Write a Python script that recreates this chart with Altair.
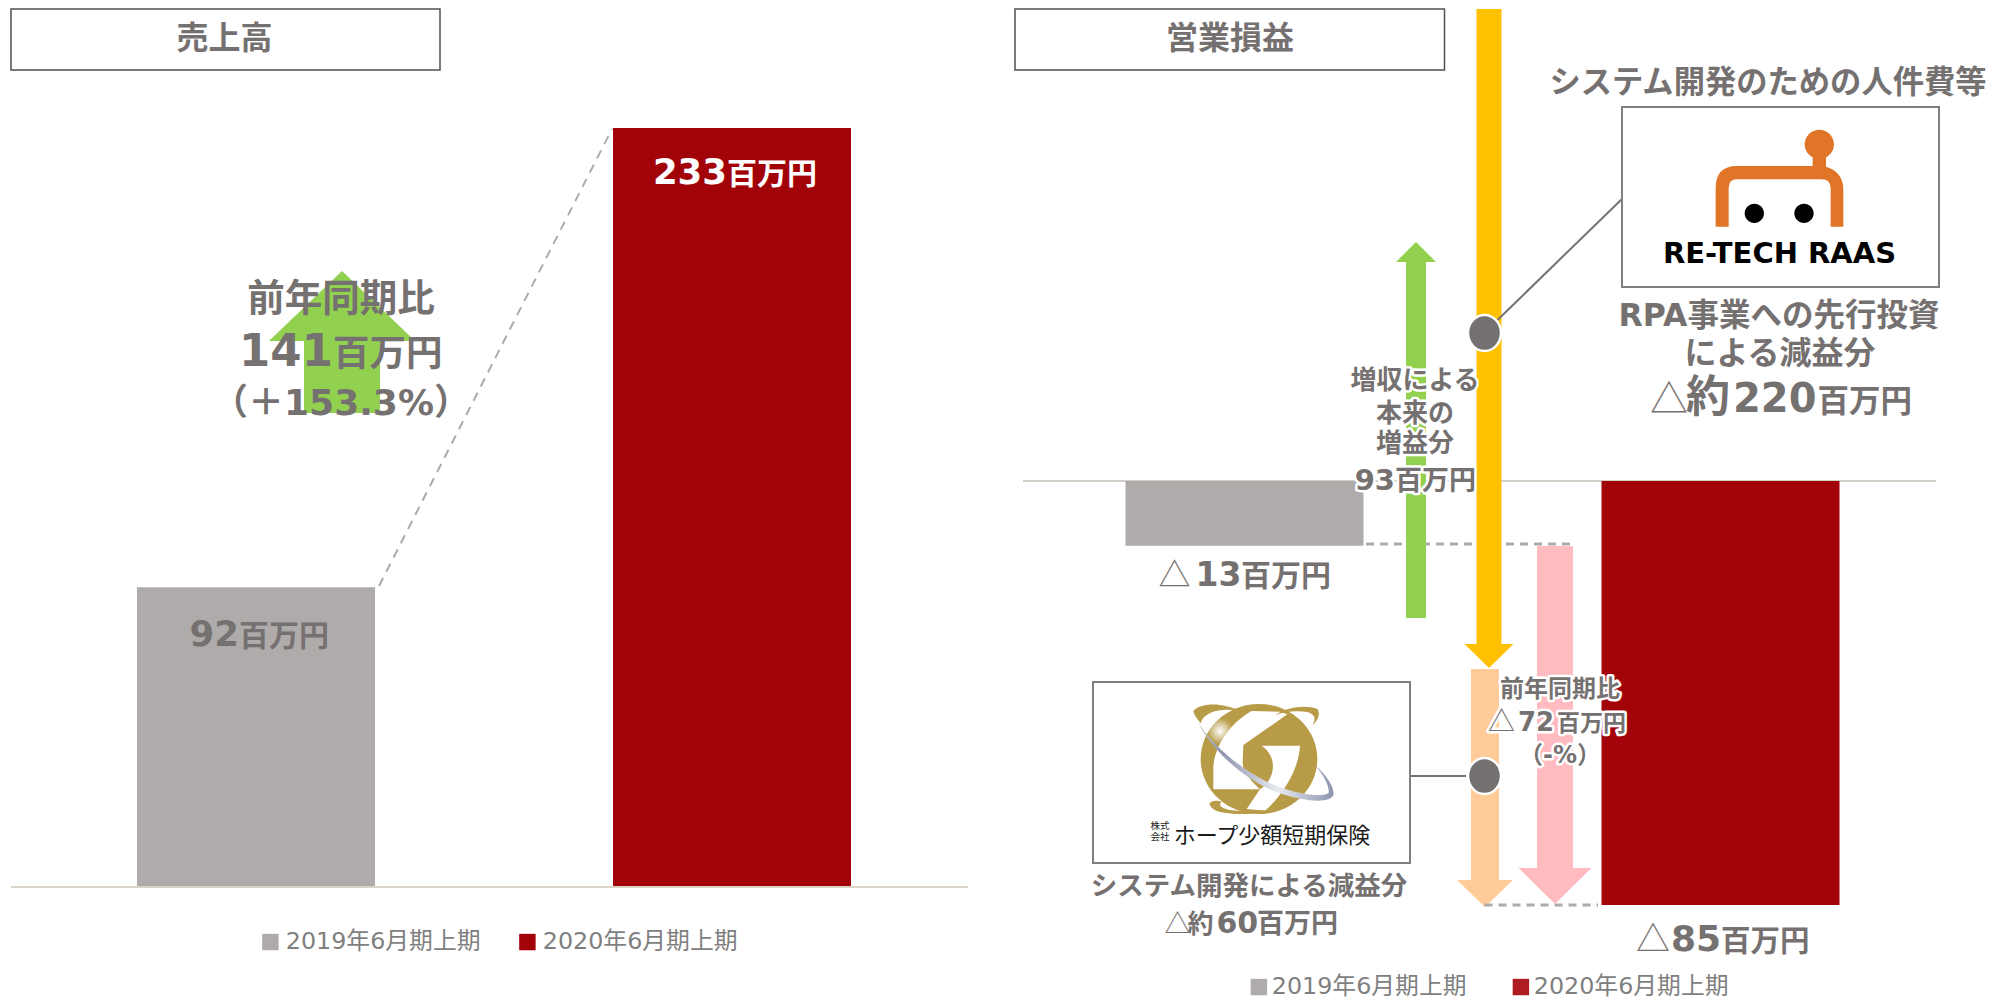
import altair as alt
import pandas as pd

# ---- chart values ----
PERIODS = ["2019年6月期上期", "2020年6月期上期"]
SALES = [92, 233]
OPERATING = [-13, -85]
BAR_COLORS = ["#AFABAB", "#A20309"]
OP_LEGEND_COLORS = ["#AFABAB", "#AE1C22"]
LEGEND_COLOR = "#7F7F7F"

GREY = "#767171"
FONT = "DejaVu Sans, Noto Sans CJK JP"
CJK = "Noto Sans CJK JP"

# text, x, baseline y, size, colour, align, bold, halo, family
TEXTS = [
    ("売上高", 224.5, 49, 32, GREY, "center", True, False, CJK),
    ("前年同期比", 341, 311, 37.5, GREY, "center", True, False, CJK),
    ("141", 333, 366, 45, GREY, "right", True, False, FONT),
    ("百万円", 333, 366, 36.5, GREY, "left", True, False, CJK),
    ("（＋153.3%）", 341, 415, 36, GREY, "center", True, False, FONT),
    ("233", 727, 184, 35.5, "#FFFFFF", "right", True, False, FONT),
    ("百万円", 727, 184, 30, "#FFFFFF", "left", True, False, CJK),
    ("92", 239, 646, 35.5, GREY, "right", True, False, FONT),
    ("百万円", 239, 646, 30, GREY, "left", True, False, CJK),
    ("営業損益", 1230, 49, 32, GREY, "center", True, False, CJK),
    ("システム開発のための人件費等", 1768, 93, 31.3, GREY, "center", True, False, CJK),
    ("RPA事業への先行投資", 1779, 326, 31.5, GREY, "center", True, False, FONT),
    ("による減益分", 1780, 364, 32, GREY, "center", True, False, CJK),
    ("△", 1650, 412, 38, GREY, "left", False, False, CJK),
    ("約", 1686, 412, 44, GREY, "left", True, False, CJK),
    ("220", 1733, 412, 40, GREY, "left", True, False, FONT),
    ("百万円", 1817.5, 412, 31.5, GREY, "left", True, False, CJK),
    ("増収による", 1415, 389, 26, GREY, "center", True, True, CJK),
    ("本来の", 1415, 422, 26, GREY, "center", True, True, CJK),
    ("増益分", 1415, 452, 26, GREY, "center", True, True, CJK),
    ("93", 1395, 490, 29, GREY, "right", True, True, FONT),
    ("百万円", 1395, 490, 27, GREY, "left", True, True, CJK),
    ("△", 1158.5, 586, 32, GREY, "left", False, False, CJK),
    ("13", 1195.5, 586, 33, GREY, "left", True, False, FONT),
    ("百万円", 1241, 586, 30, GREY, "left", True, False, CJK),
    ("前年同期比", 1560, 697, 24, GREY, "center", True, True, CJK),
    ("△", 1488, 731, 27, GREY, "left", False, True, CJK),
    ("72", 1518, 731, 26, GREY, "left", True, True, FONT),
    ("百万円", 1557, 731, 23, GREY, "left", True, True, CJK),
    ("（-%）", 1560, 763, 24, GREY, "center", True, True, FONT),
    ("システム開発による減益分", 1249, 895, 26.5, GREY, "center", True, False, CJK),
    ("△", 1164.5, 933, 26, GREY, "left", False, False, CJK),
    ("約", 1187.5, 933, 26, GREY, "left", True, False, CJK),
    ("60", 1216.5, 933, 30, GREY, "left", True, False, FONT),
    ("百万円", 1257, 933, 27, GREY, "left", True, False, CJK),
    ("△", 1636, 951, 34, GREY, "left", False, False, CJK),
    ("85", 1671, 951, 36, GREY, "left", True, False, FONT),
    ("百万円", 1721, 951, 29.5, GREY, "left", True, False, CJK),
    ("RE-TECH RAAS", 1779.5, 263, 29, "#000000", "center", True, False, "DejaVu Sans"),
    ("ホープ少額短期保険", 1272, 843, 22, "#1A1A1A", "center", False, False, CJK),
    ("株式", 1160, 829, 9.5, "#1A1A1A", "center", False, False, CJK),
    ("会社", 1160, 840, 9.5, "#1A1A1A", "center", False, False, CJK),
]

# ---- drawing helpers: annotation layers run on a reference-pixel scale ----
W, H = 1981, 992
SX = alt.Scale(domain=[0, 1989], range=[-8, 1981], nice=False, zero=False)
SY = alt.Scale(domain=[0, 1000], range=[-8, 992], nice=False, zero=False)


def X(field="x"):
    return alt.X(f"{field}:Q", scale=SX, axis=None)


def Y(field="y"):
    return alt.Y(f"{field}:Q", scale=SY, axis=None)


def rect(x0, x1, y0, y1, **mark):
    d = pd.DataFrame({"x": [x0], "x2": [x1], "y": [y0], "y2": [y1]})
    return alt.Chart(d).mark_rect(**mark).encode(x=X(), x2="x2:Q", y=Y(), y2="y2:Q")


def rule(x0, y0, x1, y1, **mark):
    d = pd.DataFrame({"x": [x0], "x2": [x1], "y": [y0], "y2": [y1]})
    return alt.Chart(d).mark_rule(**mark).encode(x=X(), x2="x2:Q", y=Y(), y2="y2:Q")


def arrow(xc, shaft, head, tail, base, tip, color):
    d = pd.DataFrame({"x": [xc - head / 2, xc, xc + head / 2],
                      "y": [base, tip, base], "y2": [base, base, base]})
    top, bottom = sorted([tail, base])
    return [
        rect(xc - shaft / 2, xc + shaft / 2, top, bottom, fill=color),
        alt.Chart(d).mark_area(color=color, opacity=1).encode(x=X(), y=Y(), y2="y2:Q"),
    ]


def shape(path, x, y, scale=1.0, **mark):
    d = pd.DataFrame({"x": [x], "y": [y]})
    mark.setdefault("filled", True)
    return alt.Chart(d).mark_point(shape=path, size=4 * scale * scale, opacity=1, **mark).encode(x=X(), y=Y())


def ell(cx, cy, rx, ry):
    return (f"M{cx - rx},{cy}A{rx},{ry},0,1,1,{cx + rx},{cy}"
            f"A{rx},{ry},0,1,1,{cx - rx},{cy}Z")


def text_layer(t, x, y, size, color, align, bold, halo, family):
    d = pd.DataFrame({"x": [x], "y": [y], "t": [t]})
    opts = dict(fontSize=size, align=align, baseline="alphabetic", font=family,
                fontWeight="bold" if bold else "normal")
    enc = dict(x=X(), y=Y(), text="t:N")
    out = []
    if halo:
        out.append(alt.Chart(d).mark_text(color="#FFFFFF", stroke="#FFFFFF", strokeWidth=5,
                                          strokeJoin="round", **opts).encode(**enc))
    out.append(alt.Chart(d).mark_text(color=color, **opts).encode(**enc))
    return out


def legend(x, y, col_pad, offset):
    return alt.Legend(
        orient="none", legendX=x, legendY=y, direction="horizontal", title=None,
        symbolType="square", symbolSize=270, symbolStrokeWidth=0, labelFont=FONT,
        labelFontSize=23.8, labelColor=LEGEND_COLOR, labelOffset=offset, labelLimit=400,
        columnPadding=col_pad, columns=2)


def bars(values, px0, px1, y_domain, y_range, name, leg):
    d = pd.DataFrame({"period": PERIODS, name: values})
    return alt.Chart(d).mark_bar(opacity=1).encode(
        x=alt.X("period:N", axis=None, scale=alt.Scale(
            domain=PERIODS, range=[px0 - 8, px1 - 8], paddingInner=0.5, paddingOuter=0)),
        y=alt.Y(f"{name}:Q", axis=None, scale=alt.Scale(domain=y_domain, range=y_range, nice=False)),
        color=alt.Color("period:N", scale=alt.Scale(domain=PERIODS, range=BAR_COLORS), legend=leg),
    )


# ---- logos ----
ROBOT = ("M347,380L347,265Q347,198,410,198L638,198L638,170L678,170L678,200Q730,215,730,270"
         "L730,380L692,380L692,265Q692,238,665,238L410,238Q386,238,386,265L386,380Z"
         + ell(658, 133, 44, 44))
EYES = ell(463, 340, 29, 29) + ell(612, 340, 29, 29)
GOLD = "#B89B47"
DISC = ell(237, 192, 175, 165)
WHITE_A = ("M300,50L215,48C150,85,105,150,100,215L100,283L240,283"
           "C215,260,190,235,188,205L190,150L322,58Z")
WHITE_B = "M245,152L360,152C358,210,320,290,255,347L200,342L240,283C280,260,300,190,245,152Z"
SILVER = ("M42,45C50,100,140,200,270,265C340,295,420,310,445,295C450,285,440,250,405,210"
          "C440,240,465,280,460,300C450,325,380,322,300,295C180,255,60,130,42,45Z")
RING_TL = "M40,48C60,22,130,22,180,48C130,38,70,48,62,85C50,70,42,60,40,48Z"
RING_TR = "M285,60C320,35,380,28,412,42C422,55,415,75,398,90C408,70,405,60,385,52C350,45,315,50,285,60Z"
RING_BL = "M88,325C98,315,112,316,125,320C115,330,120,338,150,345C185,350,225,350,262,344C225,362,150,360,110,348C98,343,90,335,88,325Z"
SILVER_FILL = {"gradient": "linear", "x1": 0, "y1": 0, "x2": 1, "y2": 0, "stops": [
    {"offset": 0, "color": "#D8D4C4"}, {"offset": 0.2, "color": "#8E96AE"},
    {"offset": 0.6, "color": "#E8EAF0"}, {"offset": 1, "color": "#8C95AE"}]}
GLOW_FILL = {"gradient": "radial", "x1": 0.5, "y1": 0.5, "r1": 0, "x2": 0.5, "y2": 0.5, "r2": 0.5, "stops": [
    {"offset": 0, "color": "rgba(255,255,255,1)"}, {"offset": 1, "color": "rgba(255,255,255,0)"}]}

layers = []
# left panel
layers.append(bars(SALES, 137, 851, [0, 233], [879, 120], "sales", legend(250.5, 922, 35, 3.5)))
layers.append(rule(11, 887, 968, 887, color="#D9D2C9", strokeWidth=2))
layers.append(rule(379, 586, 612, 129, color="#AEAAAA", strokeWidth=2, strokeDash=[9, 7]))
layers += arrow(342, 76, 146, 413, 341, 271, "#92D050")
layers.append(rect(11, 440, 9, 70, fill="#FFFFFF", stroke="#505050", strokeWidth=1.5))

# right panel
layers.append(rule(1023, 481, 1936, 481, color="#D5CFCA", strokeWidth=2))
layers.append(bars(OPERATING, 1125.5, 1839.5, [0, -85], [473, 897], "op", None))
# the legend of the right panel has its own, lighter red
legend_data = pd.DataFrame({"period": PERIODS})
layers.append(alt.Chart(legend_data).mark_square(size=0, opacity=1).encode(
    color=alt.Color("period:N", scale=alt.Scale(domain=PERIODS, range=OP_LEGEND_COLORS),
                    legend=legend(1239, 967, 42, 1))))
layers.append(rule(1366, 544, 1572, 544, color="#AEAAAA", strokeWidth=3, strokeDash=[8, 6]))
layers += arrow(1555, 36, 73, 546, 868, 904, "#FFBBBF")
layers += arrow(1416, 20, 40, 618, 262, 242, "#92D050")
layers += arrow(1485, 28, 56, 669, 880, 907, "#FFCC99")
layers += arrow(1489, 25, 49, 9, 644, 668, "#FFC000")
layers.append(rule(1484.5, 905, 1598, 905, color="#AEAAAA", strokeWidth=3, strokeDash=[8, 6]))
layers.append(rect(1015, 1444.5, 9, 70, fill="#FFFFFF", stroke="#505050", strokeWidth=1.5))
layers.append(rule(1497.5, 320, 1623, 198, color=GREY, strokeWidth=2))
layers.append(rule(1410, 776, 1466, 776, color=GREY, strokeWidth=2))
layers.append(shape(ell(0, 0, 16.5, 18), 1484.5, 333, fill=GREY, stroke="#FFFFFF", strokeWidth=2.5))
layers.append(shape(ell(0, 0, 16.5, 18), 1484.5, 776, fill=GREY, stroke="#FFFFFF", strokeWidth=2.5))

# logo boxes
layers.append(rect(1622, 1939, 107, 287, fill="#FFFFFF", stroke="#7F7F7F", strokeWidth=2))
layers.append(shape(ROBOT, 1600, 100, 1 / 3, fill="#E07527", strokeWidth=0))
layers.append(shape(EYES, 1600, 100, 1 / 3, fill="#000000", strokeWidth=0))
layers.append(rect(1093, 1410, 682, 863, fill="#FFFFFF", stroke="#7F7F7F", strokeWidth=2))
layers.append(shape(DISC, 1180, 695, 1 / 3, fill=GOLD, strokeWidth=0))
d_glow = pd.DataFrame({"x": [1220], "y": [731]})
layers.append(alt.Chart(d_glow).mark_point(shape="circle", size=707, filled=True, opacity=1, fill=GLOW_FILL,
                                           strokeWidth=0).encode(x=X(), y=Y()))
layers.append(shape(WHITE_A, 1180, 695, 1 / 3, fill="#FFFFFF", strokeWidth=0))
layers.append(shape(WHITE_B, 1180, 695, 1 / 3, fill="#FFFFFF", strokeWidth=0))
for p in (RING_TL, RING_TR, RING_BL):
    layers.append(shape(p, 1180, 695, 1 / 3, fill=GOLD, strokeWidth=0))
layers.append(shape(SILVER, 1180, 695, 1 / 3, fill=SILVER_FILL, strokeWidth=0))

for row in TEXTS:
    layers += text_layer(*row)

chart = (
    alt.layer(*layers)
    .resolve_scale(x="independent", y="independent", color="independent")
    .properties(width=W, height=H, padding=0, background="#FFFFFF",
                autosize=alt.AutoSizeParams(type="none"))
    .configure_view(stroke=None)
)
chart.save("out.html", embed_options={"renderer": "svg", "actions": False})
